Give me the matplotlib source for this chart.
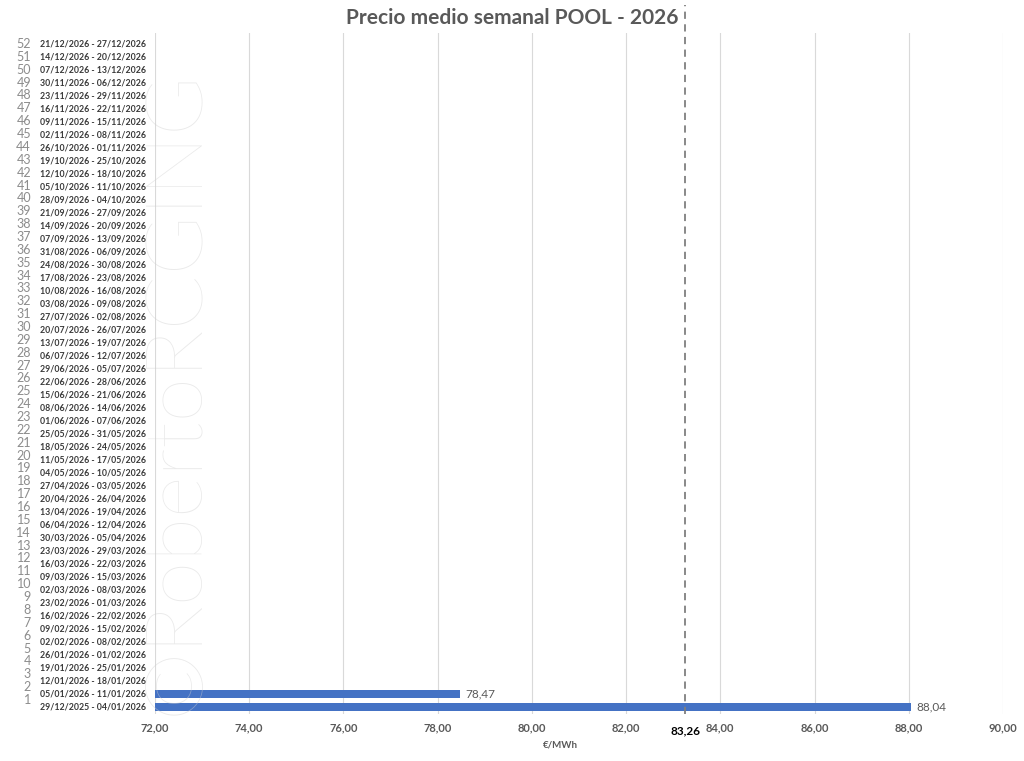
import matplotlib.pyplot as plt
import matplotlib.transforms as mtransforms
import numpy as np

plt.rcParams['font.family'] = ['Lato', 'DejaVu Sans']

# datos
semanas = list(range(1, 53))
fechas = [
    '29/12/2025 - 04/01/2026', '05/01/2026 - 11/01/2026', '12/01/2026 - 18/01/2026',
    '19/01/2026 - 25/01/2026', '26/01/2026 - 01/02/2026', '02/02/2026 - 08/02/2026',
    '09/02/2026 - 15/02/2026', '16/02/2026 - 22/02/2026', '23/02/2026 - 01/03/2026',
    '02/03/2026 - 08/03/2026', '09/03/2026 - 15/03/2026', '16/03/2026 - 22/03/2026',
    '23/03/2026 - 29/03/2026', '30/03/2026 - 05/04/2026', '06/04/2026 - 12/04/2026',
    '13/04/2026 - 19/04/2026', '20/04/2026 - 26/04/2026', '27/04/2026 - 03/05/2026',
    '04/05/2026 - 10/05/2026', '11/05/2026 - 17/05/2026', '18/05/2026 - 24/05/2026',
    '25/05/2026 - 31/05/2026', '01/06/2026 - 07/06/2026', '08/06/2026 - 14/06/2026',
    '15/06/2026 - 21/06/2026', '22/06/2026 - 28/06/2026', '29/06/2026 - 05/07/2026',
    '06/07/2026 - 12/07/2026', '13/07/2026 - 19/07/2026', '20/07/2026 - 26/07/2026',
    '27/07/2026 - 02/08/2026', '03/08/2026 - 09/08/2026', '10/08/2026 - 16/08/2026',
    '17/08/2026 - 23/08/2026', '24/08/2026 - 30/08/2026', '31/08/2026 - 06/09/2026',
    '07/09/2026 - 13/09/2026', '14/09/2026 - 20/09/2026', '21/09/2026 - 27/09/2026',
    '28/09/2026 - 04/10/2026', '05/10/2026 - 11/10/2026', '12/10/2026 - 18/10/2026',
    '19/10/2026 - 25/10/2026', '26/10/2026 - 01/11/2026', '02/11/2026 - 08/11/2026',
    '09/11/2026 - 15/11/2026', '16/11/2026 - 22/11/2026', '23/11/2026 - 29/11/2026',
    '30/11/2026 - 06/12/2026', '07/12/2026 - 13/12/2026', '14/12/2026 - 20/12/2026',
    '21/12/2026 - 27/12/2026',
]
precios = [88.04, 78.47]  # solo hay datos de las dos primeras semanas
media = 83.26
xticks = [72, 74, 76, 78, 80, 82, 84, 86, 88, 90]

W, H = 1024, 761
fig = plt.figure(figsize=(W / 100, H / 100), dpi=100)
ax = fig.add_axes([155 / W, (H - 714) / H, (1003 - 155) / W, (714 - 33) / H])

valores = np.full(len(semanas), np.nan)
valores[:len(precios)] = precios
ax.barh(semanas, valores - 72, left=72, height=0.6, color='#4472C4', zorder=3)

for s, v in zip(semanas, precios):
    ax.text(v + 0.12, s, f'{v:.2f}'.replace('.', ','), va='center', ha='left',
            fontsize=8.5, color='#595959')

ax.set_xlim(72, 90)
ax.set_ylim(0.46, 52.85)
ax.set_xticks(xticks)
ax.set_xticklabels([f'{t:.2f}'.replace('.', ',') for t in xticks],
                   fontsize=8, fontweight='bold', color='#595959')
ax.tick_params(axis='x', length=0, pad=6)
ax.set_yticks([])
ax.grid(axis='x', color='#d9d9d9', linewidth=0.8, zorder=0)
for sp in ax.spines.values():
    sp.set_visible(False)

# linea de la media
ax.vlines(media, 0.46, 55, colors='#7f7f7f', linestyles=(0, (4, 3)), linewidth=1.3,
          clip_on=False, zorder=4)
ax.text(media, -0.45, f'{media:.2f}'.replace('.', ','), ha='center', va='top',
        fontsize=8.5, fontweight='bold', color='black')

# etiquetas del eje y
trans = mtransforms.blended_transform_factory(fig.transFigure, ax.transData)
for s, f in zip(semanas, fechas):
    ax.text(40 / W, s, f, transform=trans, ha='left', va='center',
            fontsize=6.3, fontweight='bold', color='#3a3a3a')
    ny = 1.54 + (s - 1) * (50.46 / 51)
    ax.text(31 / W, ny, str(s), transform=trans, ha='right', va='center',
            fontsize=9, color='#8c8c8c')

fig.text(560 / W, 1 - 745 / H, '€/MWh', ha='center', va='center', fontsize=7,
         fontweight='bold', color='#595959')
fig.text(0.5, 1 - 18 / H, 'Precio medio semanal POOL - 2026', ha='center', va='center',
         fontsize=15, fontweight='bold', color='#595959')

# marca de agua
fig.text(176 / W, 1 - 392 / H, '©RobertoRCGING', rotation=90, ha='center', va='center',
         fontsize=58, fontweight='light', color='#d0d0d0', alpha=0.45, zorder=10)

fig.savefig('out.png', dpi=100, facecolor='white')
